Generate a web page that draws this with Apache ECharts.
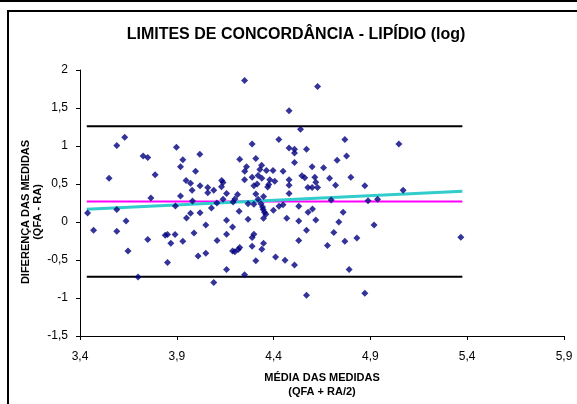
<!DOCTYPE html>
<html>
<head>
<meta charset="utf-8">
<script src="https://cdn.jsdelivr.net/npm/echarts@6/dist/echarts.min.js"></script>
<style>
html,body{margin:0;padding:0;background:#fff;}
#chart{width:577px;height:404px;}
</style>
</head>
<body>
<div id="chart"></div>
<script>
// Mean of the two measurements (x) and difference (y)
var meanValues = [
3.631,3.590,3.550,3.726,3.750,3.788,3.766,3.898,3.919,3.931,4.019,3.997,3.948,3.971,3.979,4.020,4.060,4.060,4.091,4.132,
4.139,4.131,4.157,4.214,4.225,3.919,4.139,4.250,4.627,4.480,4.539,4.289,4.427,4.768,5.047,4.480,4.508,4.508,4.570,4.308,
4.777,4.728,4.508,4.260,4.251,4.338,4.329,4.363,4.397,4.449,4.599,4.658,4.250,4.289,4.320,4.339,4.380,4.406,4.375,4.369,
4.298,4.480,4.480,4.546,4.561,4.613,4.618,4.689,4.799,4.720,4.871,4.577,4.599,4.627,4.480,5.069,4.308,4.348,4.320,4.697,
4.888,4.937,3.439,3.470,3.590,3.590,3.638,3.648,3.750,3.700,3.840,3.852,3.869,3.891,3.852,3.893,3.931,3.950,3.971,3.981,
3.989,4.010,4.020,4.050,4.050,4.079,4.091,4.108,4.107,4.157,4.157,4.157,4.188,4.188,4.200,4.217,4.225,4.200,4.222,4.191,
4.268,4.298,4.335,4.343,4.346,4.353,4.360,4.348,4.399,4.428,4.449,4.468,4.530,4.530,4.578,4.601,4.618,4.759,4.737,4.919,
4.268,4.570,4.530,4.711,4.768,4.830,4.678,4.298,4.289,4.348,4.289,4.339,4.308,4.410,4.459,4.508,4.790,4.250,4.570,4.871,
5.367,4.315
];
var diffValues = [
1.114,1.005,0.577,0.870,0.848,0.621,0.315,0.983,0.726,0.818,0.891,0.668,0.547,0.511,0.419,0.477,0.455,0.385,0.419,0.547,
0.520,0.464,0.376,0.363,0.826,0.341,0.300,1.861,1.782,1.464,1.219,1.027,1.084,1.084,1.027,0.975,0.957,0.909,0.957,0.835,
0.870,0.813,0.782,0.726,0.668,0.747,0.691,0.678,0.678,0.668,0.726,0.713,0.556,0.590,0.612,0.577,0.556,0.537,0.494,0.459,
0.477,0.556,0.485,0.608,0.582,0.590,0.524,0.577,0.590,0.485,0.477,0.455,0.455,0.455,0.376,0.419,0.367,0.337,0.300,0.290,
0.280,0.300,0.118,-0.109,0.166,-0.122,0.013,-0.380,-0.231,-0.725,-0.174,-0.166,-0.279,-0.166,-0.532,0.210,-0.253,0.052,0.114,0.275,
-0.144,-0.446,0.123,-0.039,-0.410,0.183,-0.795,-0.244,0.249,0.022,-0.161,-0.624,-0.066,-0.380,-0.393,-0.362,-0.336,0.301,0.140,0.262,
0.241,0.232,0.241,0.197,0.163,0.127,0.101,0.048,0.153,0.206,0.228,0.048,0.206,0.013,0.127,0.170,0.026,0.127,0.000,-0.039,
0.035,-0.109,-0.244,-0.139,-0.253,-0.210,-0.310,-0.161,-0.205,-0.279,-0.318,-0.358,-0.511,-0.459,-0.502,-0.567,-0.624,-0.695,-0.965,-0.938,
-0.200,0.500
];
var lineRangeX = [3.435, 5.375];
var upperLimit = 1.26;
var meanDiff = 0.27;
var lowerLimit = -0.72;
var regressionY = [0.167, 0.405];

var xTicks = {min: 3.4, max: 5.9, interval: 0.5};
var yTicks = {min: -1.5, max: 2, interval: 0.5};

var FONT = '"Liberation Sans", Arial, sans-serif';
function fmt(v){ return String(Math.round(v*10)/10).replace('.', ','); }

var points = meanValues.map(function(x,i){ return [x, diffValues[i]]; });
function hline(y){ return [[lineRangeX[0], y],[lineRangeX[1], y]]; }

var chart = echarts.init(document.getElementById('chart'), null, {renderer:'canvas'});
chart.setOption({
  animation: false,
  backgroundColor: '#ffffff',
  grid: {left: 80, right: 13, top: 70, bottom: 68, containLabel: false},
  xAxis: {
    type: 'value', min: xTicks.min, max: xTicks.max, interval: xTicks.interval,
    axisLine: {onZero: false, lineStyle: {color: '#000', width: 1}},
    axisTick: {show: true, length: 4, inside: false, lineStyle: {color: '#000'}},
    axisLabel: {formatter: fmt, color: '#000', fontFamily: FONT, fontSize: 12, margin: 15},
    splitLine: {show: false}
  },
  yAxis: {
    type: 'value', min: yTicks.min, max: yTicks.max, interval: yTicks.interval,
    axisLine: {show: true, onZero: false, lineStyle: {color: '#000', width: 1}},
    axisTick: {show: true, length: 4, inside: false, lineStyle: {color: '#000'}},
    axisLabel: {formatter: fmt, color: '#000', fontFamily: FONT, fontSize: 12, margin: 12},
    splitLine: {show: false}
  },
  series: [
    {type: 'line', data: hline(upperLimit), symbol: 'none', lineStyle: {color: '#000', width: 2}, z: 2},
    {type: 'line', data: hline(lowerLimit), symbol: 'none', lineStyle: {color: '#000', width: 2}, z: 2},
    {type: 'line', data: hline(meanDiff), symbol: 'none', lineStyle: {color: '#ff00ff', width: 2}, z: 2},
    {type: 'line', data: [[lineRangeX[0], regressionY[0]],[lineRangeX[1], regressionY[1]]], symbol: 'none', lineStyle: {color: '#33cccc', width: 3}, z: 3},
    {type: 'scatter', data: points, symbol: 'diamond', symbolSize: 7, itemStyle: {color: '#000080'}, z: 4}
  ],
  graphic: [
    {type: 'line', shape: {x1: 0, y1: 1, x2: 577, y2: 1}, style: {stroke: '#000', lineWidth: 2}},
    {type: 'rect', shape: {x: 8, y: 11, width: 620, height: 450}, style: {fill: null, stroke: '#000', lineWidth: 2}},
    {type: 'text', style: {text: 'LIMITES DE CONCORDÂNCIA - LIPÍDIO (log)', font: 'bold 16px ' + FONT, fill: '#000', align: 'center', verticalAlign: 'middle'}, position: [296, 35]},
    {type: 'text', style: {text: 'MÉDIA DAS MEDIDAS', font: 'bold 11px ' + FONT, fill: '#000', align: 'center', verticalAlign: 'middle'}, position: [322, 378]},
    {type: 'text', style: {text: '(QFA + RA/2)', font: 'bold 11px ' + FONT, fill: '#000', align: 'center', verticalAlign: 'middle'}, position: [322, 392]},
    {type: 'text', rotation: Math.PI/2, style: {text: 'DIFERENÇA DAS MEDIDAS', font: 'bold 11px ' + FONT, fill: '#000', align: 'center', verticalAlign: 'middle'}, position: [26, 212]},
    {type: 'text', rotation: Math.PI/2, style: {text: '(QFA - RA)', font: 'bold 11px ' + FONT, fill: '#000', align: 'center', verticalAlign: 'middle'}, position: [38, 212]}
  ]
});
</script>
</body>
</html>
